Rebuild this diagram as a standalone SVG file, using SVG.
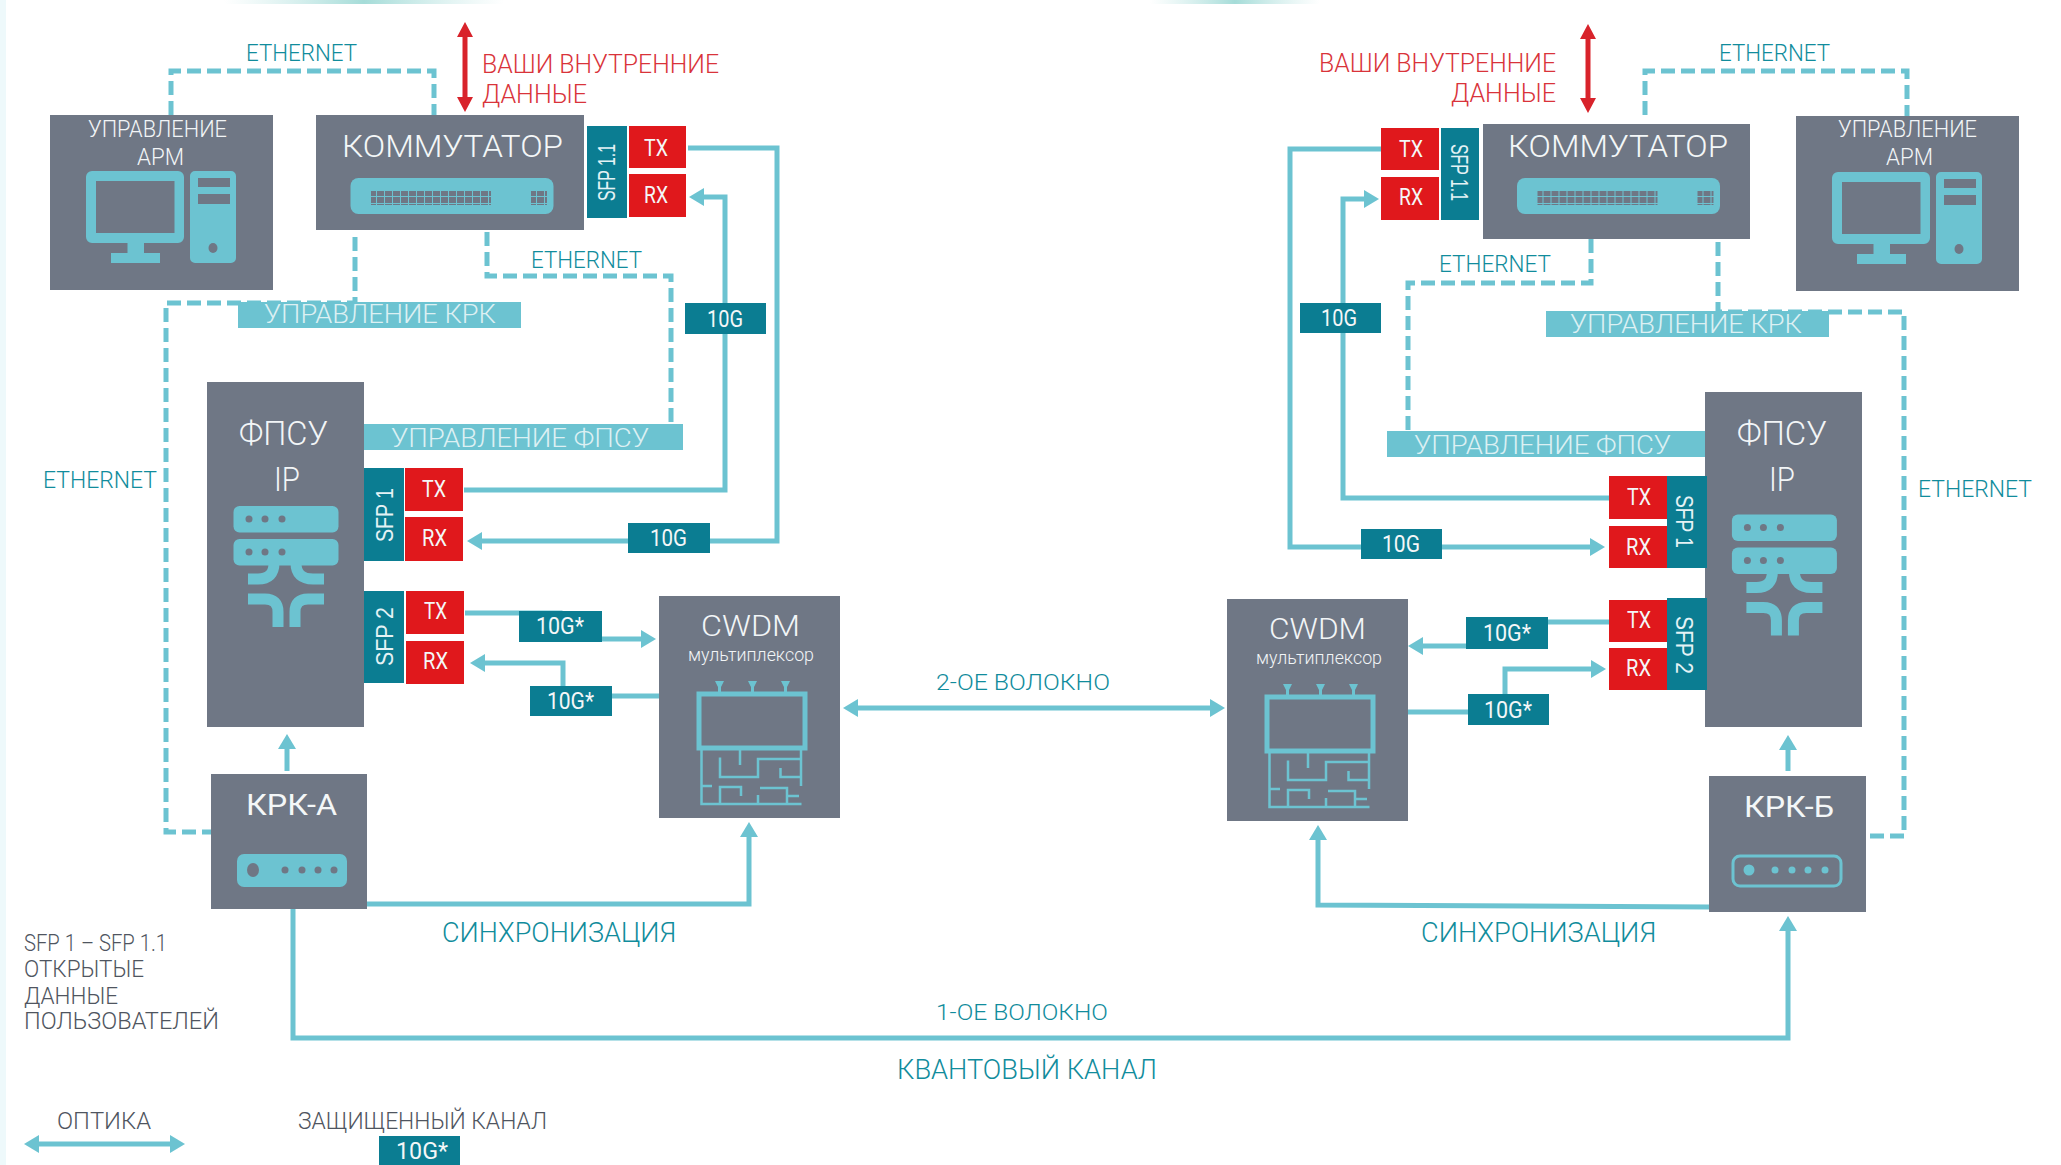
<svg xmlns="http://www.w3.org/2000/svg" width="2061" height="1165" viewBox="0 0 2061 1165">
<style>
text{font-family:"Roboto","Noto Sans",sans-serif;font-weight:300}
.box{fill:#6f7785}
.port{fill:#0b7d92}
.red{fill:#e0181c}
.lab{fill:#6cc3d1}
.w{fill:#f2f5f7}
.wl{fill:#f4f7f8;font-weight:400}
.big{font-weight:300}
.pale{fill:#dcf0f3}
.tl{fill:#118c9c}
.rd{fill:#d9333a}
.gr{fill:#4f5560}
.sfp{font-family:"Liberation Sans",Arial,sans-serif;font-size:24px;fill:#e4f2f5;font-weight:400}
.i{fill:#6cc3d1}
.is{fill:none;stroke:#6cc3d1}
.ln{fill:none;stroke:#6cc3d1;stroke-width:5}
.arr{marker-end:url(#ah)}
.da{fill:none;stroke:#6cc3d1;stroke-width:5;stroke-dasharray:14 6}
</style>
<defs>
<marker id="ah" markerUnits="userSpaceOnUse" markerWidth="20" markerHeight="22" refX="2" refY="11" orient="auto-start-reverse"><path d="M0,2L15,11L0,20z" fill="#6cc3d1"/></marker>
<marker id="rh" markerUnits="userSpaceOnUse" markerWidth="20" markerHeight="22" refX="2" refY="11" orient="auto-start-reverse"><path d="M0,3L15,11L0,19z" fill="#d8232b"/></marker>
<pattern id="grid" width="8" height="7" patternUnits="userSpaceOnUse"><rect width="8" height="7" fill="#6f7785"/><path d="M0,.5H8M.5,0V7" stroke="#6cc3d1" stroke-width="1"/></pattern>
<linearGradient id="tg" x1="0" x2="1" y1="0" y2="0"><stop offset="0" stop-color="#bfe6e4" stop-opacity="0"/><stop offset=".5" stop-color="#a5dcd8"/><stop offset="1" stop-color="#bfe6e4" stop-opacity="0"/></linearGradient>
<g id="pc">
<path class="i" fill-rule="evenodd" d="M92,171H178a6,6 0 0 1 6,6V237a6,6 0 0 1-6,6H144V253H160V263H111V253H127.500V243H92a6,6 0 0 1-6-6V177a6,6 0 0 1 6-6zM96,181V233H174.500V181z"/>
<path class="i" fill-rule="evenodd" d="M195,171H231a5,5 0 0 1 5,5V258a5,5 0 0 1-5,5H195a5,5 0 0 1-5-5V176a5,5 0 0 1 5-5zM198,178V187H230V178zM198,194V204H230V194z"/>
<ellipse cx="213" cy="248" rx="4.500" ry="5" fill="#6f7785"/>
</g>
<g id="srv">
<rect class="i" x="233.500" y="506" width="105" height="26.500" rx="6"/>
<rect class="i" x="233.500" y="539" width="105" height="26.500" rx="6"/>
<g fill="#6f7785"><circle cx="249" cy="519" r="3.500"/><circle cx="265" cy="519" r="3.500"/><circle cx="282" cy="519" r="3.500"/><circle cx="249" cy="552" r="3.500"/><circle cx="265" cy="552" r="3.500"/><circle cx="282" cy="552" r="3.500"/></g>
<path class="is" stroke-width="11" d="M248,579H258Q274,579 274,563M324,579H313Q296,579 296,563M248,599H265Q278,599 278,612V627M324,599H308Q295,599 295,612V627"/>
</g>
<g id="mux">
<rect class="is" stroke-width="5" x="699" y="694" width="106" height="54"/>
<g fill="#6cc3d1"><path d="M715,681H724L721,687V694H718V687zM748,681H757L754,687V694H751V687zM781,681H790L787,687V694H784V687z"/></g>
<path class="is" stroke-width="2.500" d="M701.500,749V804H801.500M801,749V786M740,749V765M720,757.500V777H758V759H801M780.500,768V777H801M701.500,786H712M720,804V787H741V796M758,795V804M760,788H787V804M787,796H799"/>
</g>
<g id="sw">
<rect class="i" x="350.500" y="178" width="203" height="36" rx="8"/>
<rect x="371" y="191" width="120" height="14" fill="url(#grid)"/>
<rect x="531" y="191" width="16" height="14" fill="url(#grid)"/>
</g>
</defs>
<rect width="2061" height="1165" fill="#fff"/>
<rect x="0" y="0" width="6" height="1165" fill="#eef9fb"/>
<rect x="224" y="0" width="280" height="4" fill="url(#tg)"/>
<rect x="1150" y="0" width="170" height="4" fill="url(#tg)"/>

<g id="connectors">
<path class="da" d="M171,115V71H434V115"/>
<path class="da" d="M355,237V303H166V832H211"/>
<path class="da" d="M487,232V276H671V424"/>
<path class="da" d="M1645,115V71H1907V116"/>
<path class="da" d="M1591,239V283H1408V431"/>
<path class="da" d="M1718,242V312H1904V836H1866"/>
<path class="ln arr" d="M688,148H777V541H480"/>
<path class="ln arr" d="M464,490H725V197H702"/>
<path class="ln arr" d="M465,613H560V639H643"/>
<path class="ln arr" d="M659,696H563V663H483"/>
<path class="ln arr" d="M287,771V747"/>
<path class="ln arr" d="M367,904H749V835"/>
<path class="ln arr" d="M293,909V1038H1788V929"/>
<path class="ln arr" d="M856,708L1212,708" marker-start="url(#ah)"/>
<path class="ln arr" d="M1381,149H1290V547H1592"/>
<path class="ln arr" d="M1609,498H1343V199H1366"/>
<path class="ln arr" d="M1609,622H1510V646H1421"/>
<path class="ln arr" d="M1408,712H1505V669H1593"/>
<path class="ln arr" d="M1788,771V748"/>
<path class="ln arr" d="M1709,907L1318,905V838"/>
<path class="ln arr" d="M37,1144H172" marker-start="url(#ah)"/>
<path fill="none" stroke="#d8232b" stroke-width="5" d="M465,35V99" marker-start="url(#rh)" marker-end="url(#rh)"/>
<path fill="none" stroke="#d8232b" stroke-width="5" d="M1588,37V100" marker-start="url(#rh)" marker-end="url(#rh)"/>
</g>

<g id="arm-a">
<rect class="box" x="50" y="115" width="223" height="175"/>
<use href="#pc"/>
<text class="w" x="88" y="137" font-size="24" textLength="139" lengthAdjust="spacingAndGlyphs">УПРАВЛЕНИЕ</text>
<text class="w" x="137" y="165" font-size="24" textLength="47" lengthAdjust="spacingAndGlyphs">АРМ</text>
</g>
<g id="switch-a">
<rect class="box" x="316" y="115" width="268" height="115"/>
<text class="wl big" x="342" y="157" font-size="32" textLength="221" lengthAdjust="spacingAndGlyphs">КОММУТАТОР</text>
<use href="#sw"/>
<rect class="port" x="587" y="126" width="40" height="92"/>
<text class="sfp" transform="translate(615,201) rotate(-90)" textLength="57" lengthAdjust="spacingAndGlyphs">SFP 1.1</text>
<rect class="red" x="629" y="126" width="57" height="42"/>
<rect class="red" x="629" y="174" width="57" height="43"/>
<text class="wl" x="644" y="156" font-size="23" textLength="24" lengthAdjust="spacingAndGlyphs">TX</text>
<text class="wl" x="644" y="203" font-size="23" textLength="24" lengthAdjust="spacingAndGlyphs">RX</text>
</g>
<g id="label-krk-a"><rect class="lab" x="238" y="302" width="283" height="26"/><text class="pale" x="264" y="323" font-size="26" textLength="232" lengthAdjust="spacingAndGlyphs">УПРАВЛЕНИЕ КРК</text></g>
<g id="label-fpsu-a"><rect class="lab" x="364" y="424" width="319" height="26"/><text class="pale" x="391" y="447" font-size="26" textLength="258" lengthAdjust="spacingAndGlyphs">УПРАВЛЕНИЕ ФПСУ</text></g>
<g id="fpsu-a">
<rect class="box" x="207" y="382" width="157" height="345"/>
<text class="w" x="239" y="445" font-size="34" textLength="89" lengthAdjust="spacingAndGlyphs">ФПСУ</text>
<text class="w" x="274" y="491" font-size="34" textLength="26" lengthAdjust="spacingAndGlyphs">IP</text>
<use href="#srv"/>
<rect class="port" x="364" y="468" width="40" height="93"/>
<rect class="port" x="364" y="591" width="40" height="92"/>
<text class="sfp" transform="translate(393,542) rotate(-90)" textLength="54" lengthAdjust="spacingAndGlyphs">SFP 1</text>
<text class="sfp" transform="translate(393,666) rotate(-90)" textLength="59" lengthAdjust="spacingAndGlyphs">SFP 2</text>
<rect class="red" x="405" y="468" width="58" height="43"/>
<rect class="red" x="405" y="517" width="58" height="44"/>
<rect class="red" x="406" y="591" width="58" height="43"/>
<rect class="red" x="406" y="641" width="58" height="43"/>
<text class="wl" x="422" y="497" font-size="23" textLength="24" lengthAdjust="spacingAndGlyphs">TX</text>
<text class="wl" x="422" y="546" font-size="23" textLength="25" lengthAdjust="spacingAndGlyphs">RX</text>
<text class="wl" x="424" y="619" font-size="23" textLength="23" lengthAdjust="spacingAndGlyphs">TX</text>
<text class="wl" x="423" y="669" font-size="23" textLength="25" lengthAdjust="spacingAndGlyphs">RX</text>
</g>
<g id="krk-a">
<rect class="box" x="211" y="774" width="156" height="135"/>
<text class="wl" x="246" y="815" font-size="30" textLength="91" lengthAdjust="spacingAndGlyphs">КРК-А</text>
<rect class="i" x="237" y="854" width="110" height="33" rx="7"/>
<g fill="#6f7785"><ellipse cx="253" cy="870" rx="6" ry="7"/><circle cx="285" cy="870" r="3.500"/><circle cx="302" cy="870" r="3.500"/><circle cx="318" cy="870" r="3.500"/><circle cx="334" cy="870" r="3.500"/></g>
</g>
<g id="cwdm-a">
<rect class="box" x="659" y="596" width="181" height="222"/>
<text class="w" x="701" y="636" font-size="30" textLength="99" lengthAdjust="spacingAndGlyphs">CWDM</text>
<text class="w" x="688" y="661" font-size="18" textLength="126" lengthAdjust="spacingAndGlyphs">мультиплексор</text>
<use href="#mux"/>
</g>
<g id="tag-10g-a1"><rect class="port" x="685" y="303" width="81" height="31"/><text class="wl" x="707" y="327" font-size="23" textLength="36" lengthAdjust="spacingAndGlyphs">10G</text></g>
<g id="tag-10g-a2"><rect class="port" x="628" y="523" width="82" height="30"/><text class="wl" x="650" y="546" font-size="23" textLength="37" lengthAdjust="spacingAndGlyphs">10G</text></g>
<g id="tag-10gs-a1"><rect class="port" x="519" y="611" width="83" height="31"/><text class="wl" x="536" y="634" font-size="23" textLength="48" lengthAdjust="spacingAndGlyphs">10G*</text></g>
<g id="tag-10gs-a2"><rect class="port" x="530" y="686" width="82" height="30"/><text class="wl" x="547" y="709" font-size="23" textLength="47" lengthAdjust="spacingAndGlyphs">10G*</text></g>

<g id="arm-b">
<rect class="box" x="1796" y="116" width="223" height="175"/>
<use href="#pc" transform="translate(1746,1)"/>
<text class="w" x="1838" y="137" font-size="24" textLength="139" lengthAdjust="spacingAndGlyphs">УПРАВЛЕНИЕ</text>
<text class="w" x="1886" y="165" font-size="24" textLength="47" lengthAdjust="spacingAndGlyphs">АРМ</text>
</g>
<g id="switch-b">
<rect class="box" x="1483" y="124" width="267" height="115"/>
<text class="wl big" x="1508" y="157" font-size="32" textLength="220" lengthAdjust="spacingAndGlyphs">КОММУТАТОР</text>
<use href="#sw" transform="translate(1166.500,0)"/>
<rect class="port" x="1441" y="128" width="38" height="92"/>
<text class="sfp" transform="translate(1451,144) rotate(90)" textLength="57" lengthAdjust="spacingAndGlyphs">SFP 1.1</text>
<rect class="red" x="1381" y="128" width="58" height="42"/>
<rect class="red" x="1381" y="177" width="58" height="43"/>
<text class="wl" x="1399" y="157" font-size="23" textLength="24" lengthAdjust="spacingAndGlyphs">TX</text>
<text class="wl" x="1399" y="205" font-size="23" textLength="24" lengthAdjust="spacingAndGlyphs">RX</text>
</g>
<g id="label-krk-b"><rect class="lab" x="1546" y="311" width="283" height="26"/><text class="pale" x="1570" y="333" font-size="26" textLength="232" lengthAdjust="spacingAndGlyphs">УПРАВЛЕНИЕ КРК</text></g>
<g id="label-fpsu-b"><rect class="lab" x="1387" y="431" width="318" height="26"/><text class="pale" x="1414" y="454" font-size="26" textLength="257" lengthAdjust="spacingAndGlyphs">УПРАВЛЕНИЕ ФПСУ</text></g>
<g id="fpsu-b">
<rect class="box" x="1705" y="392" width="157" height="335"/>
<text class="w" x="1737" y="445" font-size="34" textLength="90" lengthAdjust="spacingAndGlyphs">ФПСУ</text>
<text class="w" x="1769" y="491" font-size="34" textLength="26" lengthAdjust="spacingAndGlyphs">IP</text>
<use href="#srv" transform="translate(1498.400,8.500)"/>
<rect class="port" x="1667" y="476" width="40" height="92"/>
<rect class="port" x="1667" y="598" width="40" height="92"/>
<text class="sfp" transform="translate(1676,495) rotate(90)" textLength="53" lengthAdjust="spacingAndGlyphs">SFP 1</text>
<text class="sfp" transform="translate(1676,616) rotate(90)" textLength="58" lengthAdjust="spacingAndGlyphs">SFP 2</text>
<rect class="red" x="1609" y="476" width="58" height="43"/>
<rect class="red" x="1609" y="526" width="58" height="42"/>
<rect class="red" x="1609" y="600" width="58" height="42"/>
<rect class="red" x="1609" y="648" width="58" height="42"/>
<text class="wl" x="1627" y="505" font-size="23" textLength="24" lengthAdjust="spacingAndGlyphs">TX</text>
<text class="wl" x="1626" y="555" font-size="23" textLength="25" lengthAdjust="spacingAndGlyphs">RX</text>
<text class="wl" x="1627" y="628" font-size="23" textLength="24" lengthAdjust="spacingAndGlyphs">TX</text>
<text class="wl" x="1626" y="676" font-size="23" textLength="25" lengthAdjust="spacingAndGlyphs">RX</text>
</g>
<g id="krk-b">
<rect class="box" x="1709" y="776" width="157" height="136"/>
<text class="wl" x="1744" y="817" font-size="30" textLength="90" lengthAdjust="spacingAndGlyphs">КРК-Б</text>
<rect class="is" stroke-width="3" x="1733" y="856" width="108" height="30" rx="7"/>
<g fill="#6cc3d1"><circle cx="1749" cy="870" r="5.500"/><circle cx="1775" cy="870" r="3.500"/><circle cx="1792" cy="870" r="3.500"/><circle cx="1808" cy="870" r="3.500"/><circle cx="1825" cy="870" r="3.500"/></g>
</g>
<g id="cwdm-b">
<rect class="box" x="1227" y="599" width="181" height="222"/>
<text class="w" x="1269" y="639" font-size="30" textLength="97" lengthAdjust="spacingAndGlyphs">CWDM</text>
<text class="w" x="1256" y="664" font-size="18" textLength="126" lengthAdjust="spacingAndGlyphs">мультиплексор</text>
<use href="#mux" transform="translate(568,3)"/>
</g>
<g id="tag-10g-b1"><rect class="port" x="1300" y="303" width="81" height="30"/><text class="wl" x="1321" y="326" font-size="23" textLength="36" lengthAdjust="spacingAndGlyphs">10G</text></g>
<g id="tag-10g-b2"><rect class="port" x="1361" y="529" width="81" height="30"/><text class="wl" x="1382" y="552" font-size="23" textLength="38" lengthAdjust="spacingAndGlyphs">10G</text></g>
<g id="tag-10gs-b1"><rect class="port" x="1466" y="617" width="82" height="32"/><text class="wl" x="1483" y="641" font-size="23" textLength="48" lengthAdjust="spacingAndGlyphs">10G*</text></g>
<g id="tag-10gs-b2"><rect class="port" x="1468" y="694" width="81" height="31"/><text class="wl" x="1484" y="718" font-size="23" textLength="48" lengthAdjust="spacingAndGlyphs">10G*</text></g>

<g id="labels">
<text class="tl" x="246" y="61" font-size="23" textLength="111" lengthAdjust="spacingAndGlyphs">ETHERNET</text>
<text class="tl" x="531" y="268" font-size="23" textLength="111" lengthAdjust="spacingAndGlyphs">ETHERNET</text>
<text class="tl" x="43" y="488" font-size="23" textLength="114" lengthAdjust="spacingAndGlyphs">ETHERNET</text>
<text class="tl" x="1719" y="61" font-size="23" textLength="111" lengthAdjust="spacingAndGlyphs">ETHERNET</text>
<text class="tl" x="1439" y="272" font-size="23" textLength="112" lengthAdjust="spacingAndGlyphs">ETHERNET</text>
<text class="tl" x="1918" y="497" font-size="23" textLength="114" lengthAdjust="spacingAndGlyphs">ETHERNET</text>
<text class="rd" x="482" y="73" font-size="26" textLength="237" lengthAdjust="spacingAndGlyphs">ВАШИ ВНУТРЕННИЕ</text>
<text class="rd" x="482" y="103" font-size="26" textLength="105" lengthAdjust="spacingAndGlyphs">ДАННЫЕ</text>
<text class="rd" x="1319" y="72" font-size="26" textLength="237" lengthAdjust="spacingAndGlyphs">ВАШИ ВНУТРЕННИЕ</text>
<text class="rd" x="1451" y="102" font-size="26" textLength="105" lengthAdjust="spacingAndGlyphs">ДАННЫЕ</text>
<text class="tl" x="936" y="690" font-size="22" textLength="174" lengthAdjust="spacingAndGlyphs">2-ОЕ ВОЛОКНО</text>
<text class="tl" x="936" y="1020" font-size="22" textLength="172" lengthAdjust="spacingAndGlyphs">1-ОЕ ВОЛОКНО</text>
<text class="tl" x="897" y="1079" font-size="27" textLength="260" lengthAdjust="spacingAndGlyphs">КВАНТОВЫЙ КАНАЛ</text>
<text class="tl" x="442" y="942" font-size="27" textLength="234" lengthAdjust="spacingAndGlyphs">СИНХРОНИЗАЦИЯ</text>
<text class="tl" x="1421" y="942" font-size="27" textLength="235" lengthAdjust="spacingAndGlyphs">СИНХРОНИЗАЦИЯ</text>
<text class="gr" x="24" y="951" font-size="23" textLength="143" lengthAdjust="spacingAndGlyphs">SFP 1 – SFP 1.1</text>
<text class="gr" x="24" y="977" font-size="23" textLength="120" lengthAdjust="spacingAndGlyphs">ОТКРЫТЫЕ</text>
<text class="gr" x="24" y="1004" font-size="23" textLength="94" lengthAdjust="spacingAndGlyphs">ДАННЫЕ</text>
<text class="gr" x="24" y="1029" font-size="23" textLength="195" lengthAdjust="spacingAndGlyphs">ПОЛЬЗОВАТЕЛЕЙ</text>
<text class="gr" x="57" y="1129" font-size="23" textLength="94" lengthAdjust="spacingAndGlyphs">ОПТИКА</text>
<text class="gr" x="298" y="1129" font-size="23" textLength="249" lengthAdjust="spacingAndGlyphs">ЗАЩИЩЕННЫЙ КАНАЛ</text>
</g>
<g id="legend-tag"><rect class="port" x="379" y="1136" width="81" height="29"/><text class="wl" x="396" y="1159" font-size="23" textLength="52" lengthAdjust="spacingAndGlyphs">10G*</text></g>
</svg>
